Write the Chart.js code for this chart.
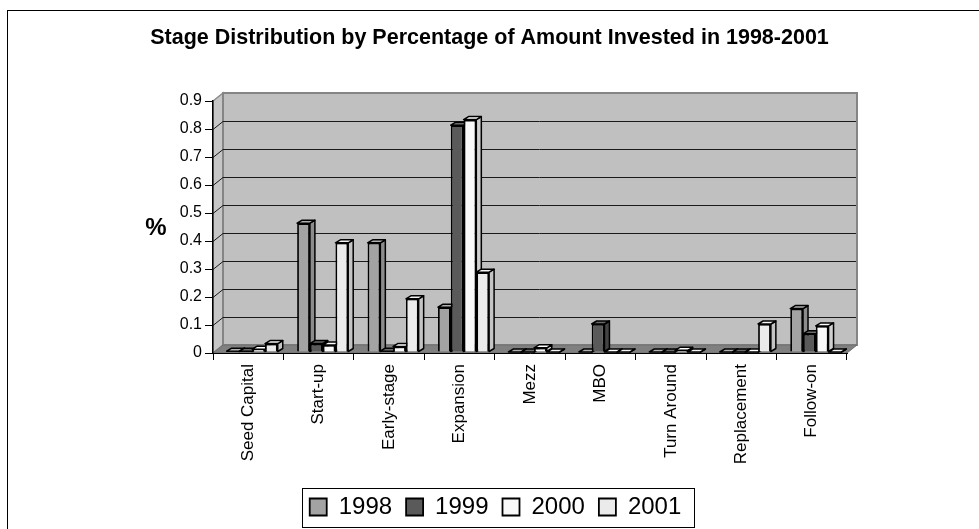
<!DOCTYPE html>
<html>
<head>
<meta charset="utf-8">
<script src="https://cdn.jsdelivr.net/npm/chart.js@4"></script>
<style>
  html, body { margin: 0; padding: 0; background: #fff; }
  canvas { display: block; }
</style>
</head>
<body>
<canvas id="chart" width="979" height="529"></canvas>
<script>
// chart data
const stages = ['Seed Capital', 'Start-up', 'Early-stage', 'Expansion', 'Mezz', 'MBO', 'Turn Around', 'Replacement', 'Follow-on'];
const years = ['1998', '1999', '2000', '2001'];
const share1998 = [0.003, 0.46, 0.39, 0.16, 0, 0, 0, 0, 0.155];
const share1999 = [0.003, 0.03, 0.003, 0.81, 0, 0.10, 0, 0, 0.065];
const share2000 = [0.01, 0.025, 0.02, 0.83, 0.015, 0, 0.006, 0, 0.093];
const share2001 = [0.03, 0.39, 0.19, 0.285, 0, 0, 0, 0.10, 0];
const yTicks = [0, 0.1, 0.2, 0.3, 0.4, 0.5, 0.6, 0.7, 0.8, 0.9];

const frontColors = ['#a3a3a3', '#5a5a5a', '#f9f9f9', '#ebebeb'];
const sideColors = ['#8c8c8c', '#444444', '#cfcfcf', '#c4c4c4'];
const topColors = ['#b0b0b0', '#6a6a6a', '#ffffff', '#f4f4f4'];

const WALL_DX = 10, WALL_DY = 8;   // depth of walls
const BAR_DX = 5, BAR_DY = 3;      // depth of the columns
const SHIFT_X = 4, SHIFT_Y = -1;   // columns sit a bit back from the front axis

Chart.defaults.font.family = '"Liberation Sans", Arial, sans-serif';
Chart.defaults.color = '#000';

function poly(ctx, pts, fill, stroke, lw) {
  ctx.beginPath();
  ctx.moveTo(pts[0][0], pts[0][1]);
  for (let i = 1; i < pts.length; i++) ctx.lineTo(pts[i][0], pts[i][1]);
  ctx.closePath();
  if (fill) { ctx.fillStyle = fill; ctx.fill(); }
  if (stroke) { ctx.strokeStyle = stroke; ctx.lineWidth = lw || 1; ctx.stroke(); }
}

const threeD = {
  id: 'threeD',
  afterLayout(chart) {
    // nudge legend to match the original placement
    chart.legend.left += 6;
    chart.legend.right += 6;
  },
  beforeDraw(chart) {
    const ctx = chart.ctx;
    const a = chart.chartArea;
    const y = chart.scales.y;
    ctx.save();
    // outer frame
    ctx.strokeStyle = '#000';
    ctx.lineWidth = 1;
    ctx.strokeRect(7.5, 10.5, 1000, 600);

    const top = a.top, bot = a.bottom, L = a.left, R = a.right;
    // left wall
    poly(ctx, [[L, bot], [L, top], [L + WALL_DX, top - WALL_DY], [L + WALL_DX, bot - WALL_DY]], '#c6c6c6', '#8a8a8a', 1.5);
    // back wall
    poly(ctx, [[L + WALL_DX, top - WALL_DY], [R + WALL_DX, top - WALL_DY], [R + WALL_DX, bot - WALL_DY], [L + WALL_DX, bot - WALL_DY]], '#c0c0c0', '#858585', 2);
    // floor
    poly(ctx, [[L, bot], [R, bot], [R + WALL_DX, bot - WALL_DY], [L + WALL_DX, bot - WALL_DY]], '#808080', '#6e6e6e', 1);

    // gridlines on walls
    ctx.strokeStyle = '#1a1a1a';
    ctx.lineWidth = 1;
    yTicks.forEach(v => {
      if (v === 0 || v === 0.9) return;
      const py = Math.round(y.getPixelForValue(v)) + 0.5;
      ctx.beginPath();
      ctx.moveTo(L, py);
      ctx.lineTo(L + WALL_DX, py - WALL_DY);
      ctx.lineTo(R + WALL_DX - 1, py - WALL_DY);
      ctx.stroke();
    });

    // "%" axis label
    ctx.font = 'bold 24px "Liberation Sans", Arial, sans-serif';
    ctx.fillStyle = '#000';
    ctx.textAlign = 'center';
    ctx.textBaseline = 'middle';
    ctx.fillText('%', 156, 228);
    ctx.restore();
  },
  beforeDatasetsDraw(chart) {
    const ctx = chart.ctx;
    ctx.save();
    ctx.translate(SHIFT_X, SHIFT_Y);
    const metas = chart.getSortedVisibleDatasetMetas();
    const boxes = [];
    metas.forEach(meta => {
      meta.data.forEach(el => {
        const p = el.getProps(['x', 'y', 'base', 'width'], true);
        boxes.push({ l: p.x - p.width / 2, r: p.x + p.width / 2, t: Math.min(p.y, p.base), b: p.base, ds: meta.index });
      });
    });
    ctx.lineJoin = 'round';
    // side faces first, then the top faces
    boxes.forEach(bx => {
      poly(ctx, [[bx.r, bx.t], [bx.r + BAR_DX, bx.t - BAR_DY], [bx.r + BAR_DX, bx.b - BAR_DY], [bx.r, bx.b]], sideColors[bx.ds], '#000', 1.5);
    });
    boxes.forEach(bx => {
      poly(ctx, [[bx.l, bx.t], [bx.l + BAR_DX, bx.t - BAR_DY], [bx.r + BAR_DX, bx.t - BAR_DY], [bx.r, bx.t]], topColors[bx.ds], '#000', 1.5);
    });
  },
  afterDatasetsDraw(chart) {
    chart.ctx.restore();
  },
  afterDraw(chart) {
    const hb = chart.legend.legendHitBoxes;
    if (!hb || !hb.length) return;
    const ctx = chart.ctx;
    const left = hb[0].left - 8;
    const right = hb[hb.length - 1].left + hb[hb.length - 1].width + 12;
    const mid = hb[0].top + hb[0].height / 2;
    ctx.save();
    ctx.strokeStyle = '#000';
    ctx.lineWidth = 1;
    ctx.strokeRect(Math.round(left) + 0.5, Math.round(mid - 19) + 0.5, Math.round(right - left), 39);
    ctx.restore();
  }
};

const seriesValues = [share1998, share1999, share2000, share2001];

new Chart(document.getElementById('chart'), {
  type: 'bar',
  data: {
    labels: stages,
    datasets: years.map((yr, i) => ({
      label: yr,
      data: seriesValues[i],
      backgroundColor: frontColors[i],
      borderColor: '#000',
      borderWidth: 1.8,
      categoryPercentage: 0.725,
      barPercentage: 1.0
    }))
  },
  options: {
    responsive: false,
    animation: false,
    layout: { padding: 0 },
    plugins: {
      title: {
        display: true,
        text: 'Stage Distribution by Percentage of Amount Invested in 1998-2001',
        font: { size: 21.5, weight: 'bold' },
        padding: { top: 25.1, bottom: 50.1 }
      },
      legend: {
        position: 'bottom',
        labels: {
          boxWidth: 17,
          boxHeight: 17,
          padding: 14,
          font: { size: 24 },
          color: '#000'
        }
      },
      tooltip: { enabled: false }
    },
    scales: {
      x: {
        grid: { display: true, drawOnChartArea: false, drawTicks: true, tickLength: 7, color: '#000', offset: true },
        border: { display: true, color: '#000', width: 1 },
        ticks: { minRotation: 90, maxRotation: 90, padding: 4, font: { size: 17 }, color: '#000', autoSkip: false },
        afterFit(scale) { scale.height = 128; }
      },
      y: {
        min: 0,
        max: 0.9,
        grid: { display: true, drawOnChartArea: false, drawTicks: true, tickLength: 8, color: '#000' },
        border: { display: true, color: '#000', width: 1.5 },
        ticks: {
          stepSize: 0.1,
          padding: 3,
          font: { size: 16 },
          color: '#000',
          callback: v => String(Number(v.toFixed(1)))
        },
        afterFit(scale) { scale.width = 213; }
      },
      // empty right-hand spacer so the plot ends where the original does
      spacer: {
        type: 'linear',
        position: 'right',
        display: true,
        grid: { display: false },
        border: { display: false },
        ticks: { display: false },
        afterFit(scale) { scale.width = 132; }
      }
    }
  },
  plugins: [threeD]
});
</script>
</body>
</html>
